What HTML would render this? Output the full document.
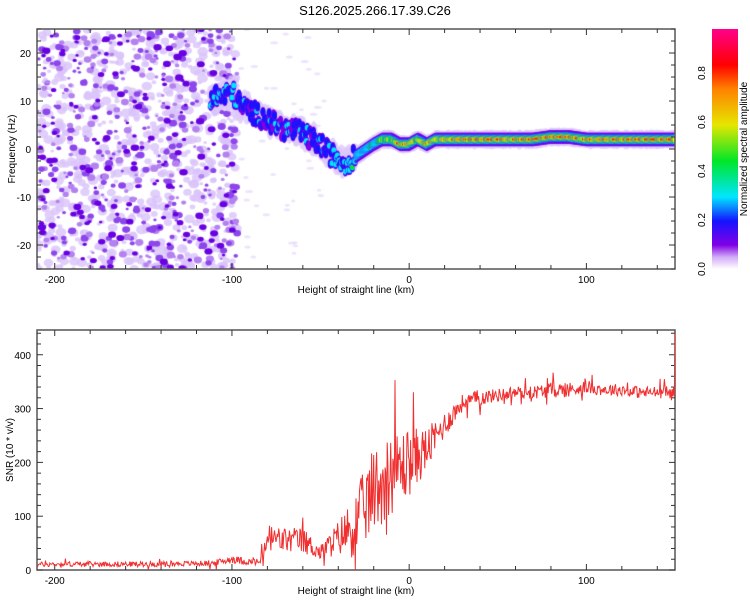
<!DOCTYPE html>
<html><head><meta charset="utf-8">
<style>
body{margin:0;background:#fff;width:750px;height:600px;overflow:hidden;font-family:"Liberation Sans",sans-serif;}
#wrap{position:relative;width:750px;height:600px;}
canvas{position:absolute;}
svg{position:absolute;left:0;top:0;}
text{font-family:"Liberation Sans",sans-serif;fill:#000;}
</style></head>
<body>
<div id="wrap">
<canvas id="hm" width="638" height="240" style="left:37px;top:29px"></canvas>
<svg id="s" width="750" height="600"></svg>
</div>
<script>
// ---- data ----
const ridgeHeights = [-112,-105,-100,-95,-90,-85,-80,-75,-70,-65,-60,-55,-50,-45,-40,-36,-32,-28,-24,-20,-15,-10,-5,0,5,10,15,20,30,40,50,60,70,80,90,100,110,120,130,140,150];
const ridgeFreqs   = [11,11,12,9,8,7,6,5,4,4,3,2,1,-1,-2,-3,-2,-1,0,1,2,2,1,1,2,1,2,2,2,2,2,2,2,2.5,2.5,2,2,2,2,2,2];
const ridgeAmps    = [0.3,0.28,0.3,0.25,0.22,0.25,0.24,0.25,0.25,0.25,0.3,0.25,0.28,0.3,0.32,0.3,0.35,0.4,0.45,0.5,0.6,0.7,0.85,0.9,0.7,0.9,0.7,0.8,0.9,0.95,0.95,0.92,0.95,0.95,0.9,0.85,0.88,0.9,0.9,0.95,0.95];
const snrHeights = [-210,-200,-190,-180,-170,-160,-150,-140,-130,-120,-110,-100,-90,-84,-80,-70,-60,-50,-40,-30,-20,-10,0,10,20,30,40,50,60,70,80,90,100,110,120,130,140,150];
const snrBase    = [10,11,11,11,11,11,11,11,12,12,13,20,15,15,60,55,55,32,60,85,150,180,200,225,270,310,320,325,330,330,335,335,340,335,335,330,330,330];
const snrSpread  = [6,6,6,6,6,6,6,6,6,6,7,9,8,8,35,30,30,18,40,80,100,95,80,50,30,20,18,15,15,15,18,18,15,14,14,14,14,14];
const xTicks = [-200,-100,0,100];
const fTicks = [-20,-10,0,10,20];
const snrTicks = [0,100,200,300,400];
const cbTicks = [0.0,0.2,0.4,0.6,0.8];

// ---- axes ----
const X0=37,X1=675;
const xs = v => X0 + (v+210)/360*(X1-X0);
const T0=29,T1=269, fy = v => T0 + (25-v)/50*(T1-T0);
const B0=330,B1=570, sy = v => B1 - v/446*(B1-B0);
const interp=(xa,ya,x)=>{if(x<=xa[0])return ya[0];for(let i=1;i<xa.length;i++){if(x<=xa[i]){const t=(x-xa[i-1])/(xa[i]-xa[i-1]);return ya[i-1]+t*(ya[i]-ya[i-1]);}}return ya[ya.length-1];};
let seed=12345;const rnd=()=>{seed=(seed*1103515245+12345)&0x7fffffff;return seed/0x7fffffff;};

function cmap(v){
  const st=[[0,[255,255,255]],[0.04,[225,205,250]],[0.1,[130,0,230]],[0.2,[20,20,255]],[0.3,[0,230,255]],[0.45,[0,230,40]],[0.6,[230,230,0]],[0.75,[255,130,0]],[0.85,[255,0,0]],[1,[255,0,140]]];
  for(let i=1;i<st.length;i++){if(v<=st[i][0]){const t=(v-st[i-1][0])/(st[i][0]-st[i-1][0]);const a=st[i-1][1],b=st[i][1];return `rgb(${a.map((c,k)=>Math.round(c+t*(b[k]-c))).join(',')})`;}}
  return 'rgb(255,0,140)';
}

// ---- heatmap ----
const cv=document.getElementById('hm'),ctx=cv.getContext('2d');
function blob(x,y,rx,ry,col){ctx.fillStyle=col;ctx.beginPath();ctx.ellipse(x-X0,y-T0,rx,ry,0,0,Math.PI*2);ctx.fill();}
// background noise texture
for(let i=0;i<750;i++){const h=-210+rnd()*113;const f=-25+rnd()*50;const r=1.5+rnd()*3;blob(xs(h),fy(f),r*1.2,r,'rgba(218,195,250,0.8)');}
for(let i=0;i<430;i++){const h=-210+rnd()*113;const f=-25+rnd()*50;const r=1.2+rnd()*2.3;blob(xs(h),fy(f),r*1.2,r,rnd()<0.5?'rgb(180,130,240)':'rgb(140,70,235)');}
for(let i=0;i<160;i++){const h=-210+rnd()*113;const f=-25+rnd()*50;const r=1.3+rnd()*2;blob(xs(h),fy(f),r*1.3,r,'rgb(105,0,225)');}
for(let i=0;i<50;i++){const h=-95+rnd()*50;const f=-25+rnd()*50;blob(xs(h),fy(f),2+rnd()*2,1.5,'rgba(225,210,250,0.6)');}
// ridge halo
for(let h=-112;h<=150;h+=0.6){
  const f=interp(ridgeHeights,ridgeFreqs,h);
  const w=h<-30?(7+rnd()*6):(8+rnd()*2);
  blob(xs(h),fy(f+(h<-30?(rnd()-0.5)*3:0)),4,w,'rgba(220,200,250,0.8)');
}
const levels=[0.1,0.2,0.3,0.45,0.6,0.75,0.85];
const radOld=[5,4,3,2.2,1.6,1.2,1];
const radNew=[7,6,5.2,4.2,3.2,2.4,1.8];
for(let h=-112;h<=150;h+=0.5){
  const f=interp(ridgeHeights,ridgeFreqs,h),a=interp(ridgeHeights,ridgeAmps,h);
  const j=h<-30?(rnd()-0.5)*4:0;
  const top=h<-30?a*(0.7+rnd()*0.6):a*(0.75+rnd()*0.3);
  levels.forEach((L,k)=>{ if(L>top) return; const r=(h<-30?radOld:radNew)[k]; blob(xs(h),fy(f+j),2.5,r,cmap(L)); });
}
// ---- svg ----
const s=document.getElementById('s');const NS='http://www.w3.org/2000/svg';
function el(tag,attrs,parent){const e=document.createElementNS(NS,tag);for(const k in attrs)e.setAttribute(k,attrs[k]);(parent||s).appendChild(e);return e;}
function txt(x,y,t,anchor,size,rot){const e=el('text',{x:x,y:y,'text-anchor':anchor||'middle','font-size':size||10});if(rot)e.setAttribute('transform',`rotate(-90 ${x} ${y})`);e.textContent=t;return e;}

const title=txt(375,15,'S126.2025.266.17.39.C26','middle',13);



function frame(y0,y1,name){
  const g=el('g',{});
  
  
  el('rect',{x:X0,y:y0,width:X1-X0,height:y1-y0,fill:'none',stroke:'#555','stroke-width':1.5},g);
  for(let v=-200;v<=140;v+=20){const x=xs(v),L=(v%100===0)?6:4;
    el('line',{x1:x,x2:x,y1:y1,y2:y1-L,stroke:'#333'},g);el('line',{x1:x,x2:x,y1:y0,y2:y0+L,stroke:'#333'},g);}
  xTicks.forEach(v=>{const t=txt(xs(v),y1+14,String(v),'middle',10);g.appendChild(t);});
  const xl=txt(356,y1+24,'Height of straight line (km)','middle',10);g.appendChild(xl);
  return g;
}
const g1=frame(T0,T1,'spectrogram-axes');
for(let v=-25;v<=25;v+=2.5){const y=fy(v),L=(v%10===0)?6:4;el('line',{x1:X0,x2:X0+L,y1:y,y2:y,stroke:'#333'},g1);el('line',{x1:X1,x2:X1-L,y1:y,y2:y,stroke:'#333'},g1);}
fTicks.forEach(v=>{g1.appendChild(txt(31,fy(v)+4,String(v),'end',10));});
const yl1=txt(15,149,'Frequency (Hz)','middle',10,true);



const g2=frame(B0,B1,'snr-axes');
for(let v=0;v<=440;v+=20){const y=sy(v),L=(v%100===0)?6:4;el('line',{x1:X0,x2:X0+L,y1:y,y2:y,stroke:'#333'},g2);el('line',{x1:X1,x2:X1-L,y1:y,y2:y,stroke:'#333'},g2);}
snrTicks.forEach(v=>{g2.appendChild(txt(31,sy(v)+4,String(v),'end',10));});
const yl2=txt(13,450,'SNR (10 * v/v)','middle',10,true);



// SNR line
let pts=[];seed=777;
for(let h=-210;h<=150;h+=0.4){
  const b=interp(snrHeights,snrBase,h),sp=interp(snrHeights,snrSpread,h);
  let r=rnd()-0.5; if(rnd()<0.08) r*=2.4;
  let v=Math.max(1,b+sp*r*1.6);
  pts.push(xs(h).toFixed(1)+','+sy(v).toFixed(1));
}
pts.push(xs(150)+','+sy(440));
const line=el('polyline',{points:pts.join(' '),fill:'none',stroke:'#f03030','stroke-width':1});



// colorbar
const defs=el('defs',{});const lg=el('linearGradient',{id:'cb',x1:0,y1:1,x2:0,y2:0},defs);
for(let i=0;i<=20;i++){el('stop',{offset:i/20,'stop-color':cmap(i/20)},lg);}
const cb=el('rect',{x:712,y:29,width:26,height:240,fill:'url(#cb)'});


cbTicks.forEach(v=>{const y=269-v/0.98*240;txt(705,y,v.toFixed(1),'middle',10,true);});
const cbl=txt(747,149,'Normalized spectral amplitude','middle',10,true);


</script>
</body></html>
